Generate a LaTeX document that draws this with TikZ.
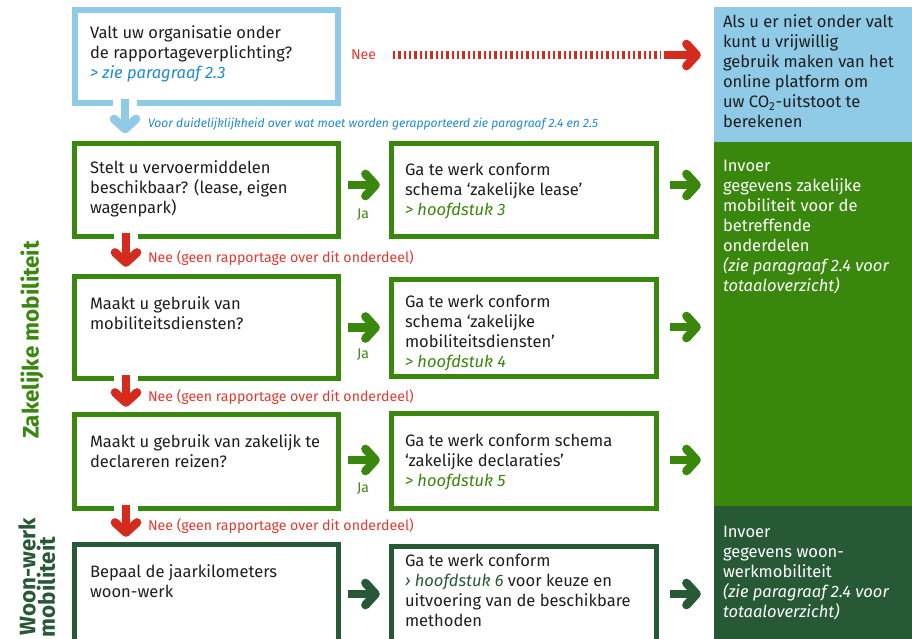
\documentclass[tikz,border=0pt]{standalone}
\usepackage{fontspec}
\setmainfont{Fira Sans}
\usetikzlibrary{decorations.markings,calc,fit}
\definecolor{rohblue}{HTML}{8FCAE7}
\definecolor{linkblue}{HTML}{1F8AD0}
\definecolor{rohgreen}{HTML}{39870C}
\definecolor{rohdkgreen}{HTML}{275937}
\definecolor{rohred}{HTML}{D52B1E}
\definecolor{neered}{HTML}{E2392D}
\definecolor{bodytext}{HTML}{1E1E1E}
\begin{document}
\begin{tikzpicture}[x=0.75pt,y=-0.75pt,
  every node/.style={inner sep=0pt,outer sep=0pt},
  qbox/.style={draw=rohgreen,line width=3.75pt},
  dbox/.style={draw=rohdkgreen,line width=3.75pt},
  tbox/.style={draw=rohblue,line width=4.5pt},
  body/.style={font=\fontsize{12.4pt}{15pt}\selectfont,text=bodytext,align=left,anchor=north west},
  wbody/.style={body,text=white},
  neelabel/.style={font=\fontsize{10.6pt}{12pt}\selectfont,text=neered,anchor=west},
  jalabel/.style={font=\fontsize{10.5pt}{12pt}\selectfont,text=rohgreen},
  sidelabel/.style={font=\fontsize{16.8pt}{20pt}\selectfont\bfseries,rotate=90,anchor=east},
  bigarrow/.style={line width=6.5pt,draw=#1,
    postaction={decorate,decoration={markings,mark=at position 0.999 with
      {\draw[#1,line width=6.5pt,line cap=round,line join=round]
        (-7.5pt,8.25pt) -- (0pt,0pt) -- (-7.5pt,-8.25pt);}}}},
  downarrow/.style={bigarrow=#1,preaction={draw=white,line width=18pt}},
  reddash/.style={draw=rohred,line width=6.5pt,dash pattern=on 1.7pt off 2.3pt}
]
\useasboundingbox (0,0) rectangle (912,638);

% right-hand filled panels
\node[fill=rohblue,fit={(714,7) (912,142)}] (info) {};
\node[fill=rohgreen,fit={(714,142) (912,506)}] (zak) {};
\node[fill=rohdkgreen,fit={(714,506) (912,645)}] (woon) {};

% top question
\node[tbox,fit={(75,10) (338,103)}] (top) {};
\node[body] (toptxt) at (90,26) {Valt uw organisatie onder\\de rapportageverplichting?\\{\color{linkblue}\itshape > zie paragraaf 2.3}};

% question boxes
\node[qbox,fit={(74.5,143.5) (338.5,236.5)}] (q1) {};
\node[qbox,fit={(74.5,276.5) (338.5,378.5)}] (q2) {};
\node[qbox,fit={(74.5,414.5) (338.5,508.5)}] (q3) {};
\node[dbox,fit={(74.5,544.5) (338.5,648)}] (q4) {};
% result boxes
\node[qbox,fit={(391.5,143.5) (656.5,236.5)}] (m1) {};
\node[qbox,fit={(391.5,279.5) (656.5,376.5)}] (m2) {};
\node[qbox,fit={(391.5,413.5) (656.5,508.5)}] (m3) {};
\node[dbox,fit={(391.5,546.5) (656.5,648)}] (m4) {};

\node[body] (q1t) at (90,161) {Stelt u vervoermiddelen\\beschikbaar? (lease, eigen\\wagenpark)};
\node[body] (q2t) at (90,297) {Maakt u gebruik van\\mobiliteitsdiensten?};
\node[body] (q3t) at (90,435) {Maakt u gebruik van zakelijk te\\declareren reizen?};
\node[body] (q4t) at (90,565) {Bepaal de jaarkilometers\\woon-werk};

\node[body] (m1t) at (405,163) {Ga te werk conform\\schema ‘zakelijke lease’\\{\color{rohgreen}\itshape > hoofdstuk 3}};
\node[body] (m2t) at (405,295) {Ga te werk conform\\schema ‘zakelijke\\mobiliteitsdiensten’\\{\color{rohgreen}\itshape > hoofdstuk 4}};
\node[body] (m3t) at (405,434) {Ga te werk conform schema\\‘zakelijke declaraties’\\{\color{rohgreen}\itshape > hoofdstuk 5}};
\node[body] (m4t) at (405,554) {Ga te werk conform\\{\color{rohdkgreen}\itshape › hoofdstuk 6} voor keuze en\\uitvoering van de beschikbare\\methoden};

\node[body] (infot) at (723,15) {Als u er niet onder valt\\kunt u vrijwillig\\gebruik maken van het\\online platform om\\uw CO\textsubscript{2}-uitstoot te\\berekenen};
\node[wbody] (zakt) at (723,160) {Invoer\\gegevens zakelijke\\mobiliteit voor de\\betreffende\\onderdelen\\{\itshape (zie paragraaf 2.4 voor}\\{\itshape totaaloverzicht)}};
\node[wbody] (woont) at (723,526) {Invoer\\gegevens woon-\\werkmobiliteit\\{\itshape (zie paragraaf 2.4 voor}\\{\itshape totaaloverzicht)}};

% side labels
\node[sidelabel,text=rohgreen,anchor=center] (sidezak) at (32,340) {Zakelijke mobiliteit};
\node[sidelabel,text=rohdkgreen] (sidewoon1) at (27,518) {Woon-werk};
\node[sidelabel,text=rohdkgreen] (sidewoon2) at (46,537) {mobiliteit};

% top: Nee dashed arrow
\node[neelabel] (nee0) at (351,55) {Nee};
\coordinate (dashstart) at (393,55);
\coordinate (dashend) at (660,55);
\draw[reddash] (dashstart) -- (dashend);
\draw[bigarrow=rohred] ($(dashend)+(4,0)$) -- ($(info.west |- dashend)+(-17.5,0)$);

% blue down arrow
\draw[downarrow=rohblue] ($(top.south west)+(50,-4)$) -- ($(top.south west)+(50,26)$);
\node[font=\fontsize{9.1pt}{10pt}\selectfont\itshape,text=linkblue,anchor=west] (voor) at (148,124)
  {Voor duidelijklijkheid over wat moet worden gerapporteerd zie paragraaf 2.4 en 2.5};

% red down arrows
\draw[downarrow=rohred] ($(q1.south west)+(51.5,-4)$) -- ($(q1.south west)+(51.5,26)$);
\draw[downarrow=rohred] ($(q2.south west)+(51.5,-4)$) -- ($(q2.south west)+(51.5,24)$);
\draw[downarrow=rohred] ($(q3.south west)+(51.5,-4)$) -- ($(q3.south west)+(51.5,24)$);
\node[neelabel] (nee1) at (148,258) {Nee (geen rapportage over dit onderdeel)};
\node[neelabel] (nee2) at (148,397) {Nee (geen rapportage over dit onderdeel)};
\node[neelabel] (nee3) at (148,526) {Nee (geen rapportage over dit onderdeel)};

% Ja arrows
\draw[bigarrow=rohgreen] ($(q1.east)+(9.5,-5)$) -- ($(m1.west |- q1.east)+(-16,-5)$);
\draw[bigarrow=rohgreen] ($(q2.east)+(9.5,0)$) -- ($(m2.west |- q2.east)+(-16,0)$);
\draw[bigarrow=rohgreen] ($(q3.east)+(9.5,-1.5)$) -- ($(m3.west |- q3.east)+(-16,-1.5)$);
\coordinate (row4) at (0,594);
\draw[bigarrow=rohdkgreen] ($(q4.east |- row4)+(9.5,0)$) -- ($(m4.west |- row4)+(-16,0)$);
\node[jalabel] (ja1) at (363,215) {Ja};
\node[jalabel] (ja2) at (363,355) {Ja};
\node[jalabel] (ja3) at (363,489) {Ja};

% arrows to the right-hand panels
\draw[bigarrow=rohgreen] ($(m1.east)+(13.5,-5)$) -- ($(zak.west |- m1.east)+(-17.5,-5)$);
\draw[bigarrow=rohgreen] ($(m2.east)+(13.5,-1)$) -- ($(zak.west |- m2.east)+(-17.5,-1)$);
\draw[bigarrow=rohgreen] ($(m3.east)+(13.5,-1)$) -- ($(zak.west |- m3.east)+(-17.5,-1)$);
\draw[bigarrow=rohdkgreen] ($(m4.east |- row4)+(13.5,0)$) -- ($(woon.west |- row4)+(-17.5,0)$);
\end{tikzpicture}
\end{document}
